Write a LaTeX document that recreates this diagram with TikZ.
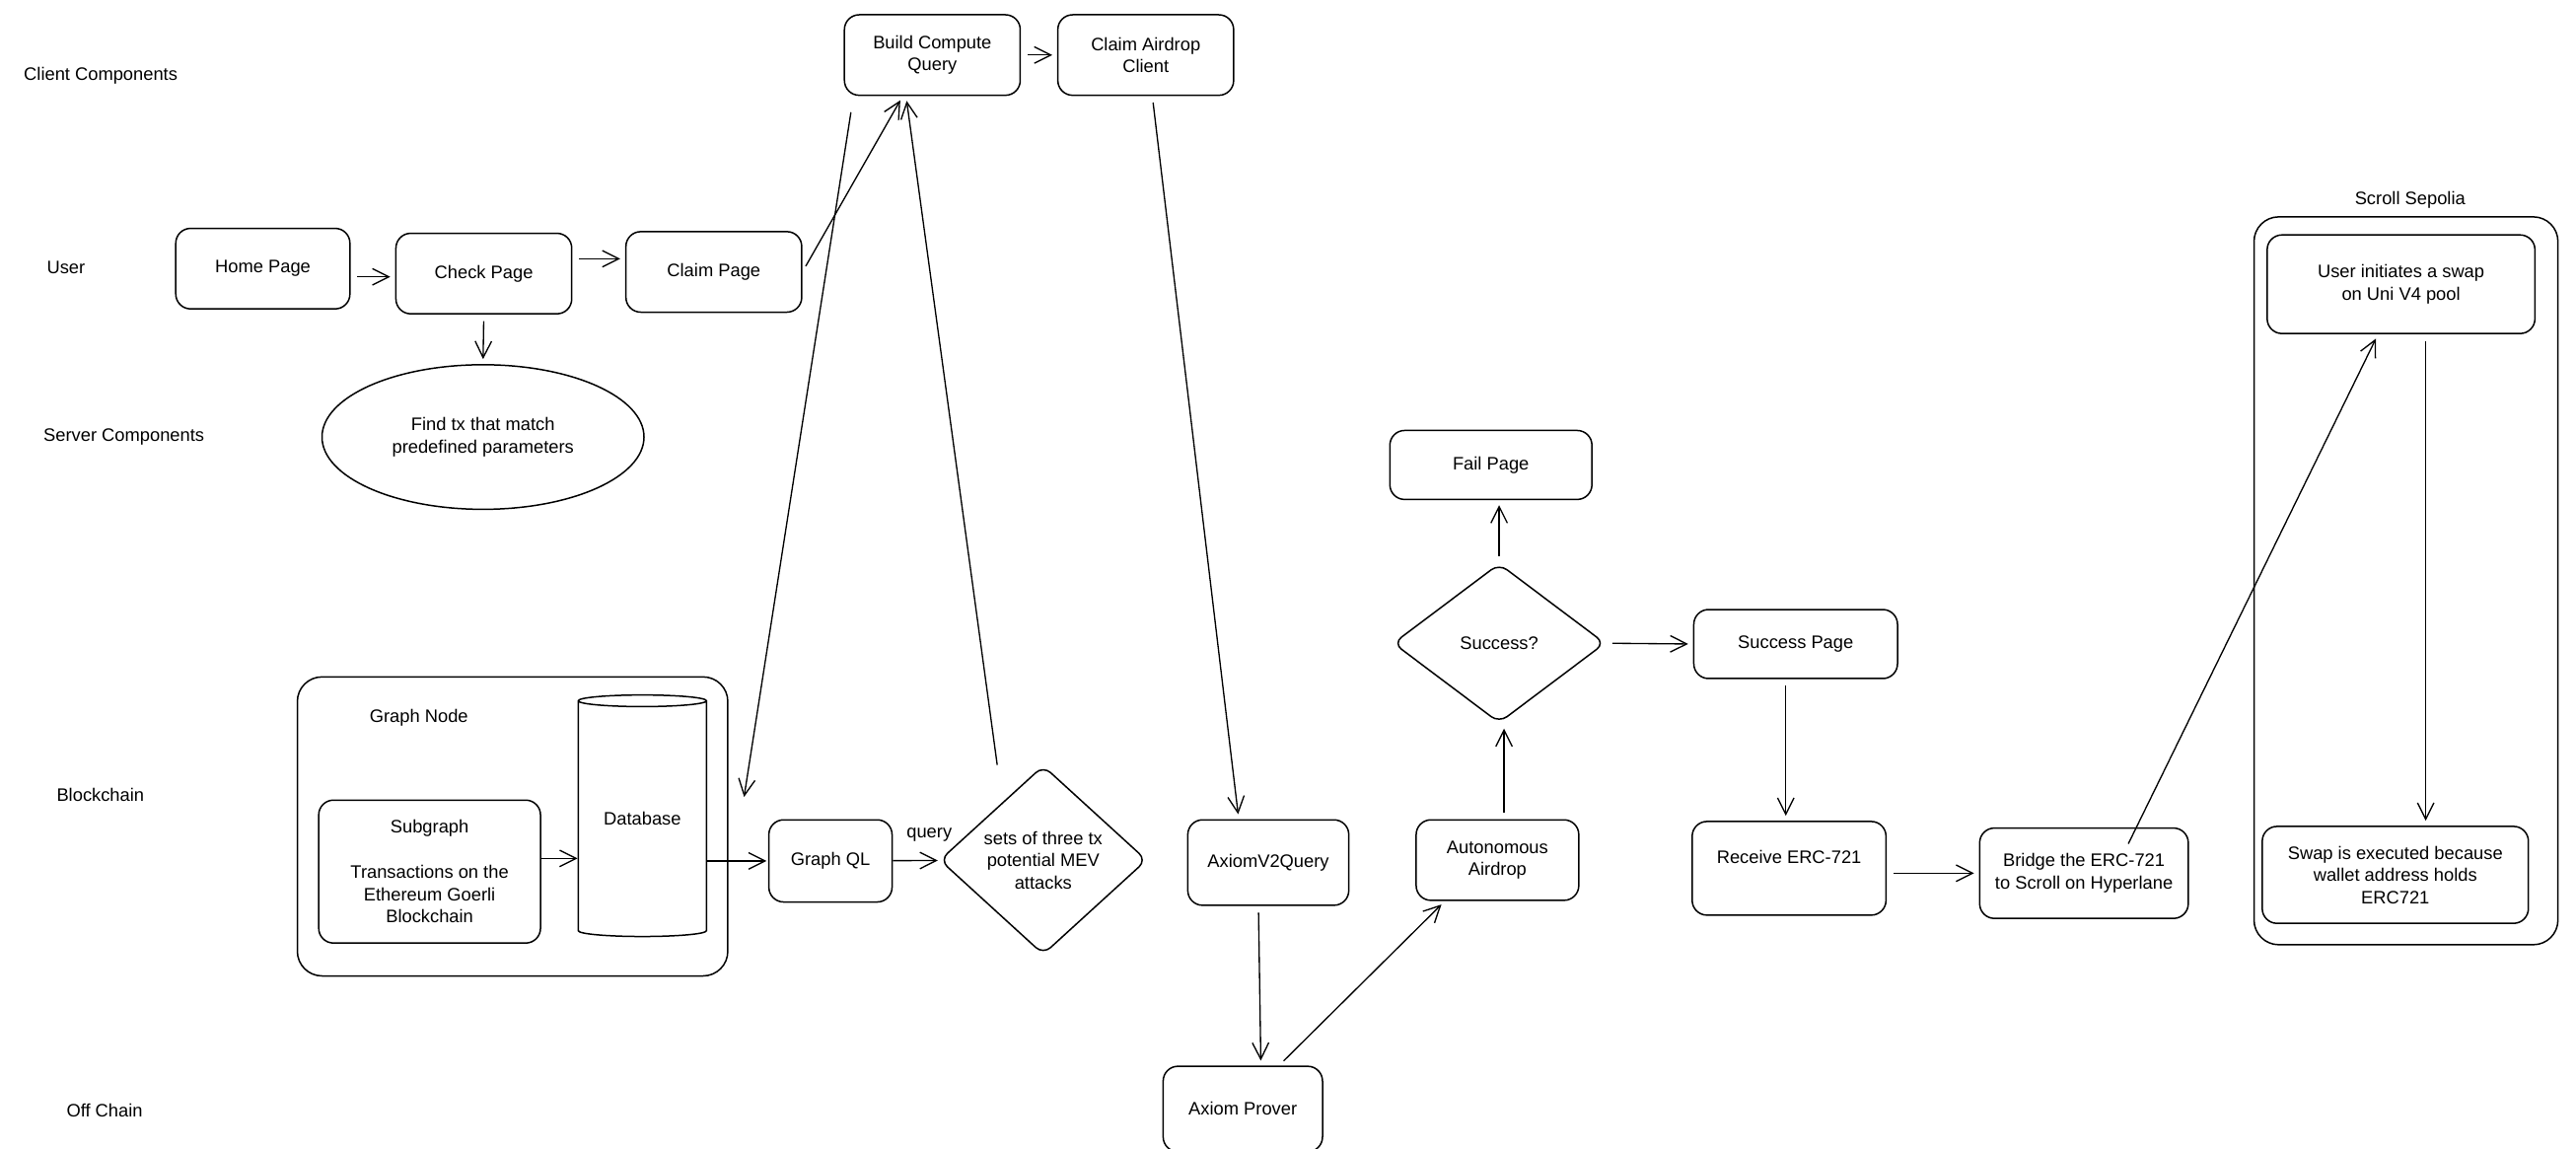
\documentclass[tikz,border=0pt]{standalone}
\usepackage{fontspec}
\setmainfont{Liberation Sans}
\usetikzlibrary{arrows.meta, positioning, shapes.geometric, calc}

\begin{document}
\begin{tikzpicture}[
    x=1pt, y=-1pt,
    every node/.style={font=\fontsize{11}{13.5}\selectfont},
    lane/.style={anchor=west},
    box/.style={rectangle, draw, line width=0.9pt, rounded corners=9pt,
                align=center, inner sep=2pt},
    group/.style={rectangle, draw, line width=0.9pt, rounded corners=15pt},
    decision/.style={diamond, draw, line width=0.9pt, rounded corners=6pt,
                     align=center, inner sep=0pt},
    arrow/.style={-{Straight Barb[length=10pt, width=10pt]}, line width=0.8pt,
                  shorten >=3pt, shorten <=4pt}
]
\useasboundingbox[fill=white] (0,0) rectangle (1568,699);

% lanes
\node[lane] (lclient) at (11,46) {Client Components};
\node[lane] (luser) at (25,163) {User};
\node[lane] (lserver) at (23,266) {Server Components};
\node[lane] (lchain) at (31,484) {Blockchain};
\node[lane] (loff) at (37,676) {Off Chain};

% user pages
\node[box, minimum width=106pt, minimum height=49pt] (home) at (160,163.5) {Home Page};
\node[box, minimum width=107pt, minimum height=49pt] (check) at (294.5,166.5) {Check Page};
\node[box, minimum width=107pt, minimum height=49pt] (claim) at (434.5,165.5) {Claim Page};
\node[ellipse, draw, line width=0.9pt, minimum width=196pt, minimum height=88pt,
      align=center] (find) at (294,266) {Find tx that match\\predefined parameters};

% client components
\node[box, minimum width=107pt, minimum height=49pt] (build) at (567.5,33.5) {Build Compute\\Query};
\node[box, minimum width=107pt, minimum height=49pt, right=22pt of build] (client) {Claim Airdrop\\Client};

% graph node
\node[group, minimum width=262pt, minimum height=182pt] (graphnode) at (312,503) {};
\node (gnlabel) at (255,437) {Graph Node};
\node[box, minimum width=135pt, minimum height=87pt] (subgraph) at (261.5,530.5)
    {Subgraph\\[14pt]Transactions on the\\Ethereum Goerli\\Blockchain};
\node[cylinder, shape border rotate=90, draw, line width=0.9pt, aspect=0.15,
      minimum width=78pt, minimum height=147pt, inner sep=0pt] (db) at (391,498.5) {Database};
\node[box, minimum width=75pt, minimum height=50pt] (graphql) at (505.5,524) {Graph QL};
\node[decision, minimum width=126pt, minimum height=115pt] (mev) at (635,523.5)
    {sets of three tx\\potential MEV\\attacks};

% axiom
\node[box, minimum width=98pt, minimum height=52pt] (axq) at (772,525) {AxiomV2Query};
\node[box, minimum width=97pt, minimum height=52pt] (prover) at (756.5,675) {Axiom Prover};
\node[box, minimum width=99pt, minimum height=49pt] (auto) at (911.5,523.5) {Autonomous\\Airdrop};
\node[decision, minimum width=129pt, minimum height=97pt] (success) at (912.5,391.5) {Success?};
\node[box, minimum width=123pt, minimum height=42pt] (fail) at (907.5,283) {Fail Page};
\node[box, minimum width=124pt, minimum height=42pt] (successp) at (1093,392) {Success Page};
\node[box, minimum width=118pt, minimum height=57pt] (receive) at (1089,528.5) {Receive ERC-721\\\mbox{}};
\node[box, minimum width=127pt, minimum height=55pt] (bridge) at (1268.5,531.5)
    {Bridge the ERC-721\\to Scroll on Hyperlane};

% scroll sepolia
\node[group, minimum width=185pt, minimum height=443pt] (scroll) at (1464.5,353.5) {};
\node (scrolllabel) at (1467,122) {Scroll Sepolia};
\node[box, minimum width=163pt, minimum height=60pt] (swapinit) at (1461.5,173)
    {User initiates a swap\\on Uni V4 pool};
\node[box, minimum width=162pt, minimum height=59pt] (swapexec) at (1458,532.5)
    {Swap is executed because\\wallet address holds\\ERC721};

% connectors
\draw[arrow] ([yshift=-5pt]home.east) -- ([yshift=-2pt]check.west);
\draw[arrow] ([yshift=9pt]check.east) -- ([yshift=9pt]check.east -| claim.west);
\draw[arrow] (check.south) -- (find.north);
\draw[arrow] (claim.east) -- ([xshift=-18pt]build.south);
\draw[arrow] (build.east) -- (client.west);
\draw[arrow, shorten <=10pt] ([xshift=-48pt]build.south) -- ([shift={(9pt,15pt)}]graphnode.east);
\draw[arrow, shorten <=0pt] ([xshift=-28pt]mev.north) -- ([xshift=-16pt]build.south);
\draw[arrow] ([xshift=4pt]client.south) -- ([xshift=-18pt]axq.north);
\draw[arrow, shorten >=0pt, shorten <=0pt] ([yshift=8pt]subgraph.east) -- ([yshift=8pt]subgraph.east -| db.west);
\draw[arrow, shorten <=0pt, shorten >=1pt] (graphql.west -| db.east) -- (graphql.west);
\draw[arrow, shorten <=0pt, shorten >=1pt] (graphql) -- node[above=8pt, xshift=8pt] (qlabel) {query} (mev);
\draw[arrow] ([xshift=-6pt]axq.south) -- ([xshift=11pt]prover.north);
\draw[arrow] ([xshift=22pt]prover.north) -- ([xshift=-32pt]auto.south);
\draw[arrow] ([xshift=4pt]auto.north) -- ([xshift=3pt]success.south);
\draw[arrow] (success.north) -- (success.north |- fail.south);
\draw[arrow] (success.east) -- (successp.west);
\draw[arrow] ([xshift=-6pt]successp.south) -- ([xshift=-2pt]receive.north);
\draw[arrow] ([yshift=-3pt]receive.east) -- (bridge.west);
\draw[arrow, shorten <=0pt] ([shift={(27pt,-10pt)}]bridge.north) -- ([xshift=-14pt]swapinit.south);
\draw[arrow] ([xshift=15pt]swapinit.south) -- ([xshift=15pt]swapinit.south |- swapexec.north);

\end{tikzpicture}
\end{document}
